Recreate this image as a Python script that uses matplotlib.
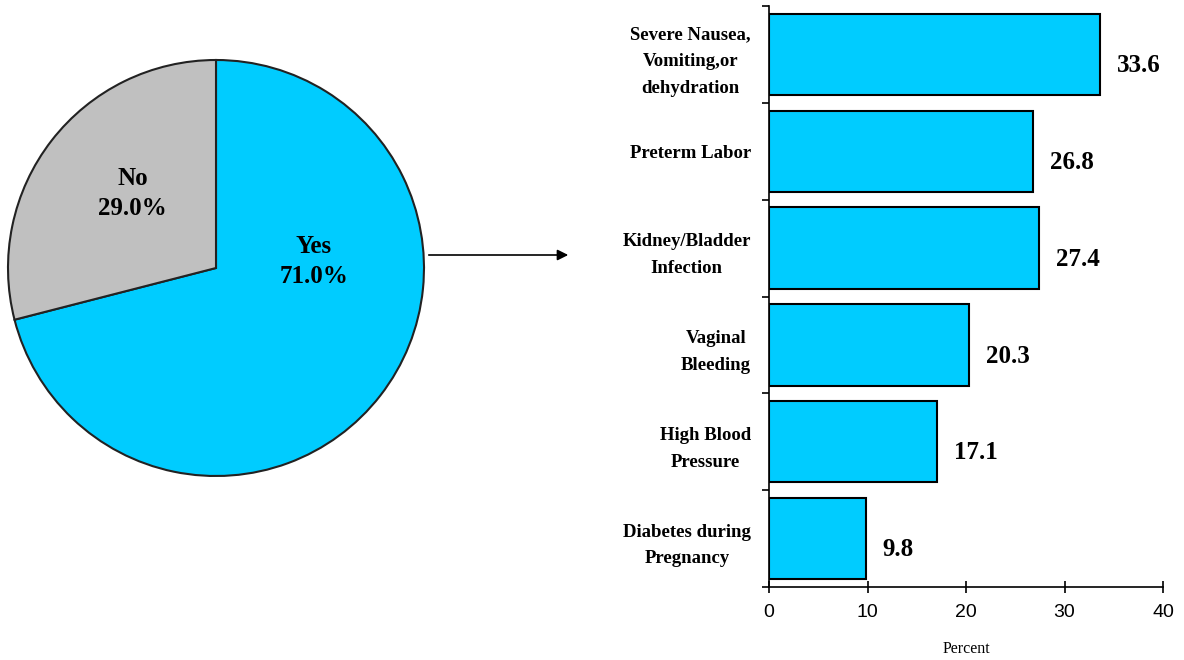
import matplotlib.pyplot as plt

# pie data
pie_labels = ['Yes', 'No']
pie_values = [71.0, 29.0]
pie_colors = ['#00CCFF', '#C0C0C0']

# bar data
conditions = ['Severe Nausea,\nVomiting,or\ndehydration', 'Preterm Labor',
              'Kidney/Bladder\nInfection', 'Vaginal\nBleeding',
              'High Blood\nPressure', 'Diabetes during\nPregnancy']
percents = [33.6, 26.8, 27.4, 20.3, 17.1, 9.8]
x_ticks = [0, 10, 20, 30, 40]

W, H = 1184, 660
fig = plt.figure(figsize=(W / 100, H / 100), dpi=100)

serif = 'Liberation Serif'
sans = 'Liberation Sans'

# pie on the left
cx, cy, r = 216, 268, 208
pad = 1.1
ax1 = fig.add_axes([(cx - r * pad) / W, (H - cy - r * pad) / H,
                    2 * r * pad / W, 2 * r * pad / H])
wedges, _ = ax1.pie(pie_values, colors=pie_colors, startangle=90, counterclock=False,
                    wedgeprops=dict(edgecolor='#222222', linewidth=1.5))
ax1.set_xlim(-pad, pad)
ax1.set_ylim(-pad, pad)
ax1.set_aspect('equal')
ax1.axis('off')

ax1.text(0.47, 0.03, 'Yes\n71.0%', ha='center', va='center', fontsize=18,
         fontweight='bold', family=serif, linespacing=1.4)
ax1.text(-0.40, 0.36, 'No\n29.0%', ha='center', va='center', fontsize=18,
         fontweight='bold', family=serif, linespacing=1.4)

# arrow between the charts
fig.add_artist(plt.matplotlib.patches.FancyArrowPatch(
    (426 / W, 1 - 255 / H), (571 / W, 1 - 255 / H), transform=fig.transFigure,
    arrowstyle='-|>', mutation_scale=16, color='black', linewidth=1.2))

# bars on the right
ax2 = fig.add_axes([769 / W, 73 / H, 394 / W, 581 / H])
ypos = list(range(len(conditions)))
ax2.barh(ypos, percents, height=0.84, color='#00CCFF', edgecolor='black', linewidth=1.5)
ax2.set_ylim(len(conditions) - 0.5, -0.5)
ax2.set_xlim(0, 40)

for y, v in zip(ypos, percents):
    ax2.annotate(f'{v}', (v, y), xytext=(12, -8), textcoords='offset points',
                 ha='left', va='center', fontsize=18, fontweight='bold', family=serif)

ax2.set_yticks([i - 0.5 for i in range(len(conditions) + 1)])
ax2.set_yticklabels([])
ax2.set_yticks(ypos, minor=True)
ax2.set_yticklabels(conditions, minor=True, fontsize=13.5, fontweight='bold', family=serif)
for lbl in ax2.get_yticklabels(minor=True):
    lbl.set_multialignment('center')
    lbl.set_linespacing(1.75)
ax2.tick_params(axis='y', which='major', direction='out', length=5, width=1.2)
ax2.tick_params(axis='y', which='minor', length=0, pad=13)

ax2.set_xticks(x_ticks)
ax2.set_xticklabels([str(t) for t in x_ticks], fontsize=14, family=sans)
ax2.tick_params(axis='x', direction='inout', length=9, width=1.2, pad=8)
ax2.set_xlabel('Percent', fontsize=11.5, family=serif, labelpad=14)

for s in ['top', 'right']:
    ax2.spines[s].set_visible(False)
for s in ['left', 'bottom']:
    ax2.spines[s].set_linewidth(1.2)

fig.savefig('out.png', dpi=100)
